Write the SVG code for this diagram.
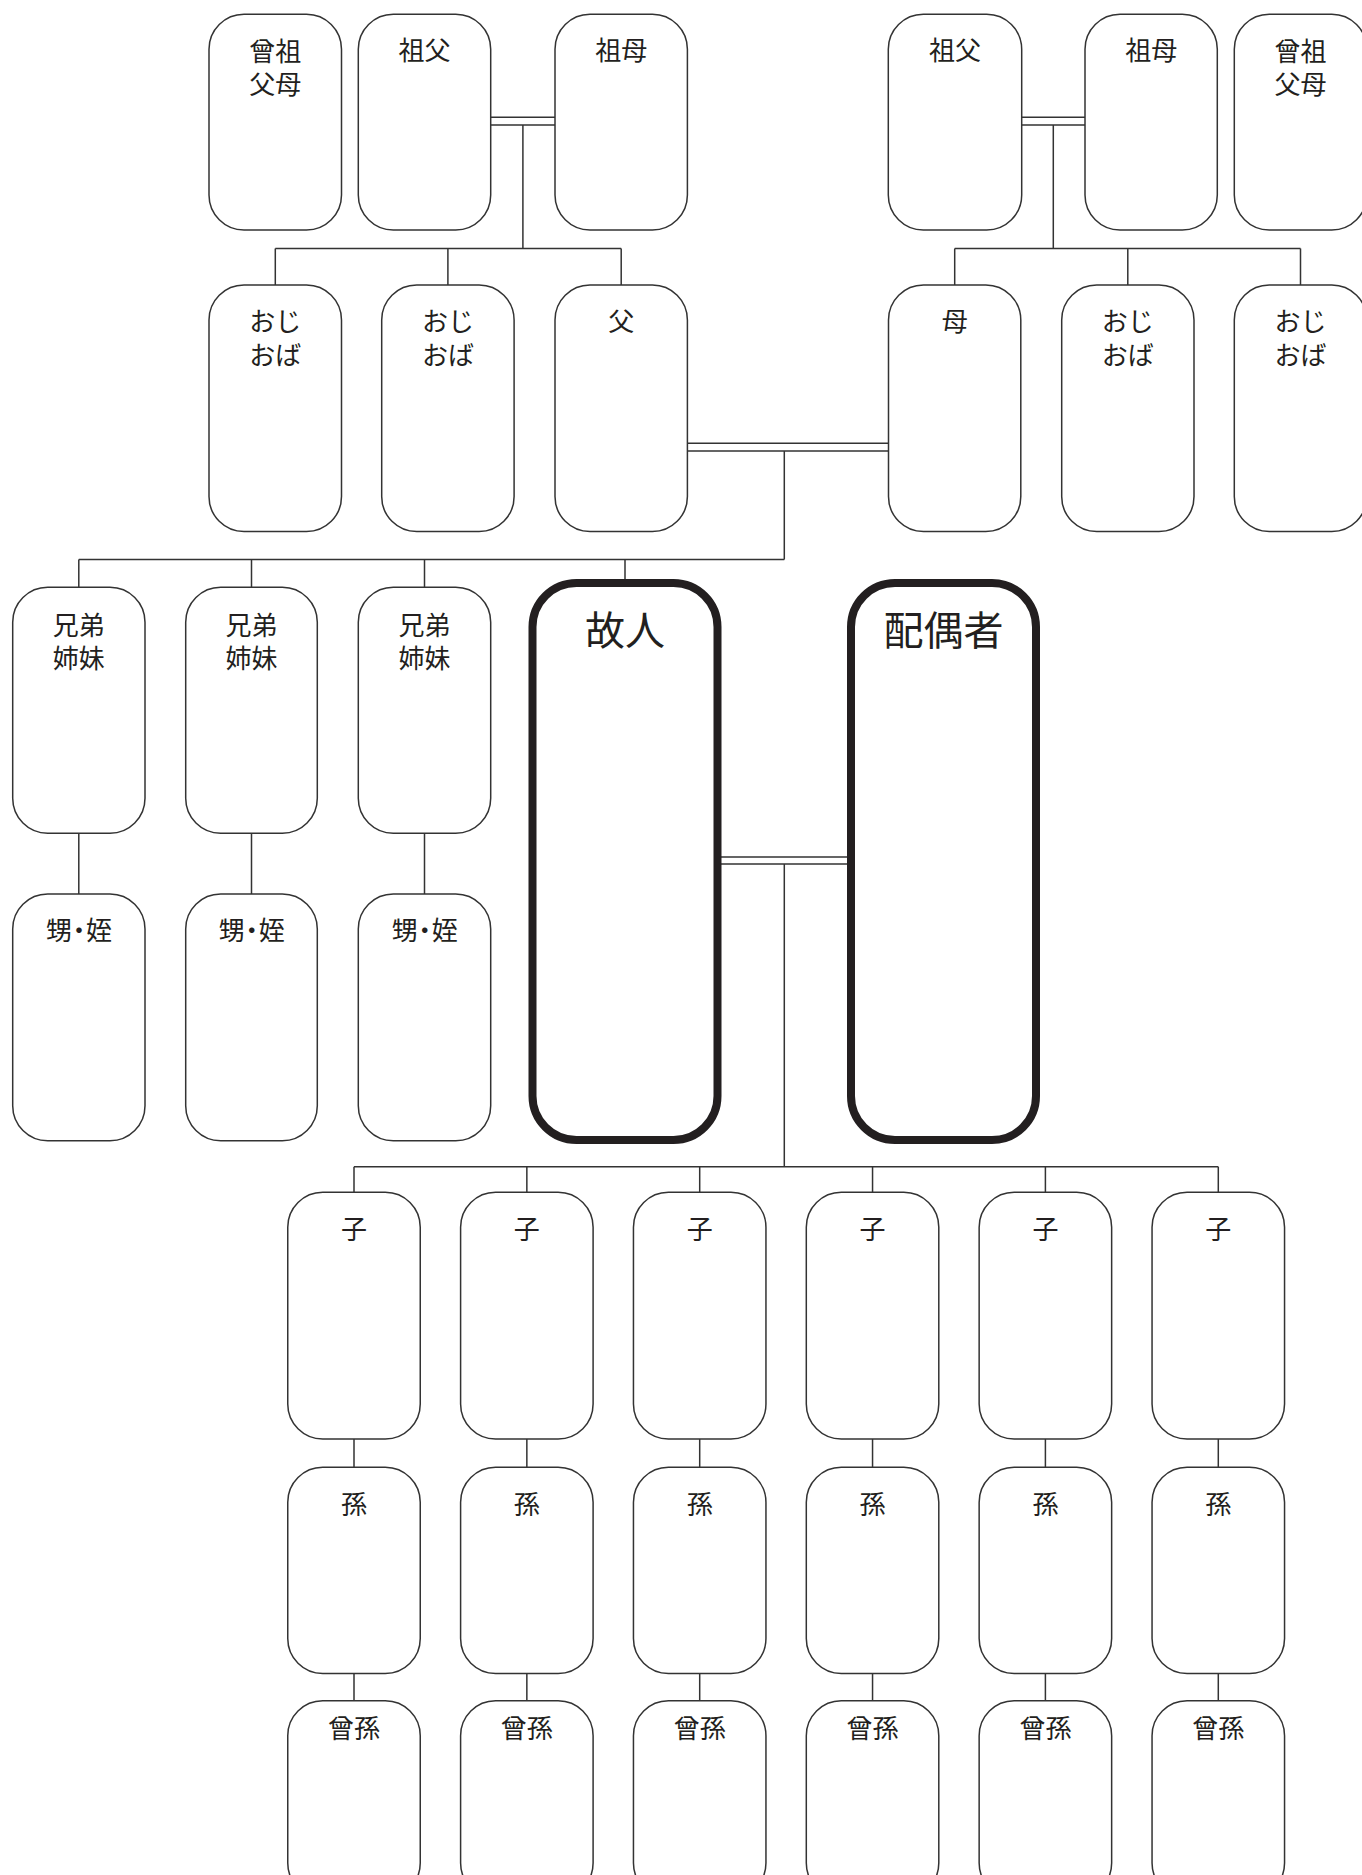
<svg xmlns="http://www.w3.org/2000/svg" width="1362" height="1875" viewBox="0 0 1362 1875">
<style>
.bg{fill:#fff}
.box{fill:#fff;stroke:#333;stroke-width:1.5}
.main{fill:#fff;stroke:#231f20;stroke-width:8}
.ln{fill:none;stroke:#333;stroke-width:1.5}
.t{font-family:"Noto Sans CJK JP","Noto Sans CJK SC",sans-serif;font-size:26px;fill:#231f20;text-anchor:middle;dominant-baseline:central}
.tn{letter-spacing:-6px}
.tb{font-family:"Noto Sans CJK JP","Noto Sans CJK SC",sans-serif;font-size:40px;fill:#231f20;text-anchor:middle;dominant-baseline:central}
</style>
<rect class="bg" x="0" y="0" width="1362" height="1875"/>
<g id="connectors" class="ln">
<path d="M490.7 117.3H555M490.7 125H555M522.9 125V248.5M275.3 248.5H621.2M275.3 248.5V285M447.9 248.5V285M621.2 248.5V285"/>
<path d="M1021.7 117.3H1085M1021.7 125H1085M1053.3 125V248.5M954.7 248.5H1300.5M954.7 248.5V285M1127.8 248.5V285M1300.5 248.5V285"/>
<path d="M687.5 443.3H888.5M687.5 451H888.5M784.3 451V559.5M78.8 559.5H784.3M78.8 559.5V587.3M251.5 559.5V587.3M424.5 559.5V587.3M625 559.5V583"/>
<path d="M78.8 833.3V894M251.5 833.3V894M424.5 833.3V894"/>
<path d="M717.5 857H851M717.5 864H851M784.3 864V1166.7M354 1166.7H1218.3"/>
<path d="M354 1166.7V1192.3M526.85 1166.7V1192.3M699.7 1166.7V1192.3M872.55 1166.7V1192.3M1045.4 1166.7V1192.3M1218.3 1166.7V1192.3"/>
<path d="M354 1439V1467.3M526.85 1439V1467.3M699.7 1439V1467.3M872.55 1439V1467.3M1045.4 1439V1467.3M1218.3 1439V1467.3"/>
<path d="M354 1673.5V1700.7M526.85 1673.5V1700.7M699.7 1673.5V1700.7M872.55 1673.5V1700.7M1045.4 1673.5V1700.7M1218.3 1673.5V1700.7"/>
</g>
<g id="ggp-l"><rect class="box" x="209" y="14.3" width="132.5" height="215.7" rx="35"/><text class="t" x="275.3" y="49">曾祖<tspan x="275.3" dy="33">父母</tspan></text></g>
<g id="gf-l"><rect class="box" x="358.3" y="14.3" width="132.4" height="215.7" rx="35"/><text class="t" x="424.5" y="48">祖父</text></g>
<g id="gm-l"><rect class="box" x="555" y="14.3" width="132.4" height="215.7" rx="35"/><text class="t" x="621.2" y="48">祖母</text></g>
<g id="gf-r"><rect class="box" x="888.3" y="14.3" width="133.4" height="215.7" rx="35"/><text class="t" x="955" y="48">祖父</text></g>
<g id="gm-r"><rect class="box" x="1085" y="14.3" width="132.3" height="215.7" rx="35"/><text class="t" x="1151.2" y="48">祖母</text></g>
<g id="ggp-r"><rect class="box" x="1234.3" y="14.3" width="132.5" height="215.7" rx="35"/><text class="t" x="1300.5" y="49">曾祖<tspan x="1300.5" dy="33">父母</tspan></text></g>
<g id="uncle1"><rect class="box" x="209" y="285" width="132.5" height="246.5" rx="35"/><text class="t" x="275.3" y="319">おじ<tspan x="275.3" dy="34">おば</tspan></text></g>
<g id="uncle2"><rect class="box" x="381.7" y="285" width="132.4" height="246.5" rx="35"/><text class="t" x="447.9" y="319">おじ<tspan x="447.9" dy="34">おば</tspan></text></g>
<g id="father"><rect class="box" x="555" y="285" width="132.4" height="246.5" rx="35"/><text class="t" x="621.2" y="319">父</text></g>
<g id="mother"><rect class="box" x="888.5" y="285" width="132.3" height="246.5" rx="35"/><text class="t" x="954.7" y="319">母</text></g>
<g id="uncle3"><rect class="box" x="1061.7" y="285" width="132.3" height="246.5" rx="35"/><text class="t" x="1127.8" y="319">おじ<tspan x="1127.8" dy="34">おば</tspan></text></g>
<g id="uncle4"><rect class="box" x="1234.3" y="285" width="132.5" height="246.5" rx="35"/><text class="t" x="1300.5" y="319">おじ<tspan x="1300.5" dy="34">おば</tspan></text></g>
<g id="sib1"><rect class="box" x="12.7" y="587.3" width="132.3" height="246" rx="35"/><text class="t" x="78.8" y="623">兄弟<tspan x="78.8" dy="33">姉妹</tspan></text></g>
<g id="sib2"><rect class="box" x="185.7" y="587.3" width="131.6" height="246" rx="35"/><text class="t" x="251.5" y="623">兄弟<tspan x="251.5" dy="33">姉妹</tspan></text></g>
<g id="sib3"><rect class="box" x="358.3" y="587.3" width="132.4" height="246" rx="35"/><text class="t" x="424.5" y="623">兄弟<tspan x="424.5" dy="33">姉妹</tspan></text></g>
<g id="nep1"><rect class="box" x="12.7" y="894" width="132.3" height="246.7" rx="35"/><text class="t tn" x="76" y="928">甥・姪</text></g>
<g id="nep2"><rect class="box" x="185.7" y="894" width="131.6" height="246.7" rx="35"/><text class="t tn" x="248.7" y="928">甥・姪</text></g>
<g id="nep3"><rect class="box" x="358.3" y="894" width="132.4" height="246.7" rx="35"/><text class="t tn" x="421.7" y="928">甥・姪</text></g>
<g id="deceased"><rect class="main" x="532.5" y="583" width="185" height="557" rx="44"/><text class="tb" x="625" y="628">故人</text></g>
<g id="spouse"><rect class="main" x="851" y="583" width="185" height="557" rx="44"/><text class="tb" x="943.5" y="628">配偶者</text></g>
<g id="child1"><rect class="box" x="287.75" y="1192.3" width="132.5" height="246.7" rx="35"/><text class="t" x="354" y="1227">子</text></g>
<g id="child2"><rect class="box" x="460.6" y="1192.3" width="132.5" height="246.7" rx="35"/><text class="t" x="526.85" y="1227">子</text></g>
<g id="child3"><rect class="box" x="633.45" y="1192.3" width="132.5" height="246.7" rx="35"/><text class="t" x="699.7" y="1227">子</text></g>
<g id="child4"><rect class="box" x="806.3" y="1192.3" width="132.5" height="246.7" rx="35"/><text class="t" x="872.55" y="1227">子</text></g>
<g id="child5"><rect class="box" x="979.15" y="1192.3" width="132.5" height="246.7" rx="35"/><text class="t" x="1045.4" y="1227">子</text></g>
<g id="child6"><rect class="box" x="1152.05" y="1192.3" width="132.5" height="246.7" rx="35"/><text class="t" x="1218.3" y="1227">子</text></g>
<g id="gc1"><rect class="box" x="287.75" y="1467.3" width="132.5" height="206.2" rx="35"/><text class="t" x="354" y="1502">孫</text></g>
<g id="gc2"><rect class="box" x="460.6" y="1467.3" width="132.5" height="206.2" rx="35"/><text class="t" x="526.85" y="1502">孫</text></g>
<g id="gc3"><rect class="box" x="633.45" y="1467.3" width="132.5" height="206.2" rx="35"/><text class="t" x="699.7" y="1502">孫</text></g>
<g id="gc4"><rect class="box" x="806.3" y="1467.3" width="132.5" height="206.2" rx="35"/><text class="t" x="872.55" y="1502">孫</text></g>
<g id="gc5"><rect class="box" x="979.15" y="1467.3" width="132.5" height="206.2" rx="35"/><text class="t" x="1045.4" y="1502">孫</text></g>
<g id="gc6"><rect class="box" x="1152.05" y="1467.3" width="132.5" height="206.2" rx="35"/><text class="t" x="1218.3" y="1502">孫</text></g>
<g id="ggc1"><rect class="box" x="287.75" y="1700.7" width="132.5" height="197.3" rx="35"/><text class="t" x="354" y="1726">曾孫</text></g>
<g id="ggc2"><rect class="box" x="460.6" y="1700.7" width="132.5" height="197.3" rx="35"/><text class="t" x="526.85" y="1726">曾孫</text></g>
<g id="ggc3"><rect class="box" x="633.45" y="1700.7" width="132.5" height="197.3" rx="35"/><text class="t" x="699.7" y="1726">曾孫</text></g>
<g id="ggc4"><rect class="box" x="806.3" y="1700.7" width="132.5" height="197.3" rx="35"/><text class="t" x="872.55" y="1726">曾孫</text></g>
<g id="ggc5"><rect class="box" x="979.15" y="1700.7" width="132.5" height="197.3" rx="35"/><text class="t" x="1045.4" y="1726">曾孫</text></g>
<g id="ggc6"><rect class="box" x="1152.05" y="1700.7" width="132.5" height="197.3" rx="35"/><text class="t" x="1218.3" y="1726">曾孫</text></g>
</svg>
